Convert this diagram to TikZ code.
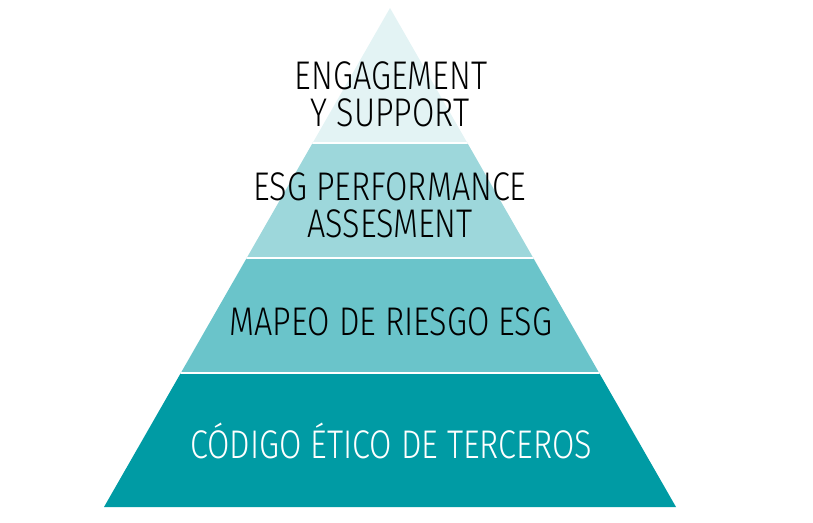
\documentclass[tikz,border=0pt]{standalone}
\usepackage{fontspec}
\newfontfamily\handfont{Fira Sans Light}
\definecolor{tierone}{HTML}{E3F3F4}
\definecolor{tiertwo}{HTML}{9DD7DB}
\definecolor{tierthree}{HTML}{6AC4CA}
\definecolor{tierfour}{HTML}{009BA4}
\newcommand{\hand}[1]{\scalebox{0.81}[1]{#1}}
\begin{document}
\begin{tikzpicture}[x=1pt, y=-1pt,
  tiertext/.style={font=\handfont\fontsize{40}{40}\selectfont, inner sep=0pt}]
\useasboundingbox (0,0) rectangle (813,522);
\begin{scope}
\clip (390,8) -- (676,507) -- (104,507) -- cycle; % pyramid outline
\fill[tierone] (0,0) rectangle (813,142); % top tier
\fill[tiertwo] (0,142) rectangle (813,257); % second tier
\fill[tierthree] (0,257) rectangle (813,372); % third tier
\fill[tierfour] (0,372) rectangle (813,522); % bottom tier
\draw[white, line width=2pt] (0,143) -- (813,143); % gap under top
\draw[white, line width=2pt] (0,258) -- (813,258); % gap under second
\draw[white, line width=2pt] (0,373) -- (813,373); % gap under third
\end{scope}
\node[tiertext] (eng) at (391,76) {\hand{ENGAGEMENT}};
\node[tiertext] (sup) at (390,113) {\hand{Y SUPPORT}};
\node[tiertext] (esg) at (390,187) {\hand{ESG PERFORMANCE}};
\node[tiertext] (ass) at (390,224) {\hand{ASSESMENT}};
\node[tiertext] (map) at (391,322) {\hand{MAPEO DE RIESGO ESG}};
\node[tiertext, white] (cod) at (391,441) {\hand{CÓDIGO ÉTICO DE TERCEROS}};
\end{tikzpicture}
\end{document}
